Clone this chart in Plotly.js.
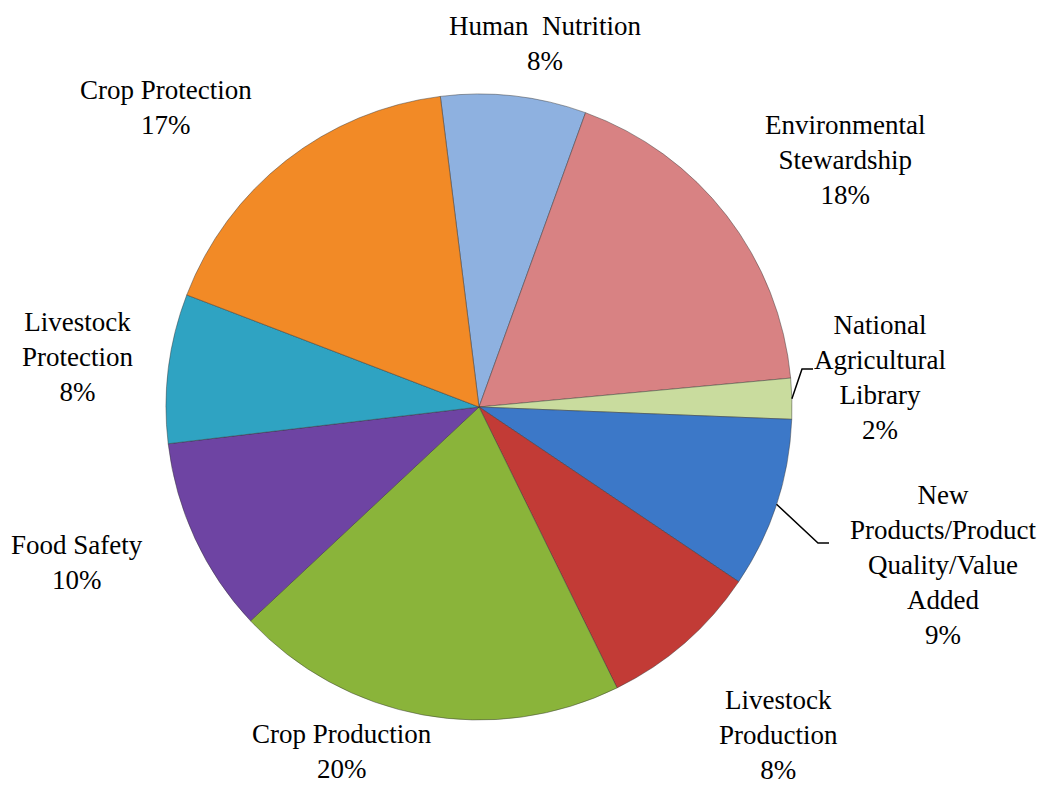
<!DOCTYPE html>
<html>
<head>
<meta charset="utf-8">
<script src="https://cdn.plot.ly/plotly-3.0.1.min.js"></script>
<style>html,body{margin:0;padding:0;background:#fff;}#chart{width:1059px;height:788px;}</style>
</head>
<body>
<div id="chart"></div>
<script>
// ---- data ----
var categories = [
  'Human Nutrition',
  'Environmental Stewardship',
  'National Agricultural Library',
  'New Products/Product Quality/Value Added',
  'Livestock Production',
  'Crop Production',
  'Food Safety',
  'Livestock Protection',
  'Crop Protection'
];
var shares = [7.5, 18.0, 2.1, 8.8, 8.3, 20.3, 10.1, 7.7, 17.2];
var labelLines = [
  ['Human  Nutrition'],
  ['Environmental', 'Stewardship'],
  ['National', 'Agricultural', 'Library'],
  ['New', 'Products/Product', 'Quality/Value', 'Added'],
  ['Livestock', 'Production'],
  ['Crop Production'],
  ['Food Safety'],
  ['Livestock', 'Protection'],
  ['Crop Protection']
];
var colors = ['#8EB1E0', '#D88283', '#C9DC9E', '#3C78C8', '#C23B36', '#8AB43A', '#6E44A3', '#2FA3C2', '#F28A26'];

// ---- layout (label placement, px) ----
var W = 1059, H = 788;
var cx = 479, cy = 407, R = 313;
var startAngle = -7.1;
var labelPos = [[545, 43], [845, 160], [880, 378], [943, 565], [778, 735], [342, 751], [77, 562], [77, 357], [166, 108]];
var leaders = { 2: [[802, 369], [813, 369]], 3: [[818, 543], [829, 543]] };

var total = shares.reduce(function (a, b) { return a + b; }, 0);
var annotations = [];
var shapes = [];
var cum = 0;
shares.forEach(function (v, i) {
  var pct = Math.round(v / total * 100) + '%';
  var txt = labelLines[i].concat([pct]).join('<br>');
  annotations.push({
    x: labelPos[i][0] / W, y: 1 - labelPos[i][1] / H, xref: 'paper', yref: 'paper',
    text: txt, showarrow: false, xanchor: 'center', yanchor: 'middle', align: 'center',
    font: { family: 'Liberation Serif', size: 27, color: '#000' }
  });
  var mid = startAngle + (cum + v / 2) / total * 360;
  cum += v;
  if (leaders[i]) {
    var a = mid * Math.PI / 180;
    var sx = cx + R * Math.sin(a), sy = cy - R * Math.cos(a);
    var pts = [[sx, sy]].concat(leaders[i]);
    var path = 'M' + pts.map(function (p) { return (p[0] / W) + ',' + (1 - p[1] / H); }).join(' L');
    shapes.push({ type: 'path', xref: 'paper', yref: 'paper', path: path, line: { color: '#000', width: 1.5 } });
  }
});

var trace = {
  type: 'pie',
  labels: categories,
  values: shares,
  sort: false,
  direction: 'clockwise',
  rotation: startAngle,
  textinfo: 'none',
  hoverinfo: 'label+percent',
  marker: { colors: colors, line: { color: 'rgba(50,50,50,0.45)', width: 1 } },
  domain: { x: [(cx - R) / W, (cx + R) / W], y: [1 - (cy + R) / H, 1 - (cy - R) / H] }
};

var layout = {
  width: W, height: H,
  margin: { l: 0, r: 0, t: 0, b: 0 },
  showlegend: false,
  paper_bgcolor: '#fff',
  annotations: annotations,
  shapes: shapes
};

Plotly.newPlot('chart', [trace], layout, { displayModeBar: false, staticPlot: true });
</script>
</body>
</html>
